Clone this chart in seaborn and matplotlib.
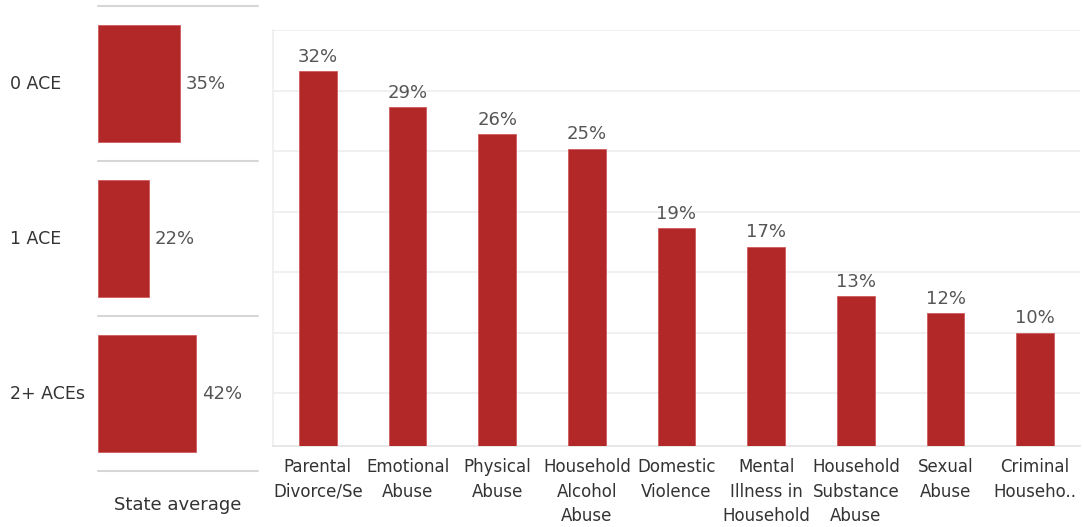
import matplotlib
matplotlib.use("Agg")
import matplotlib.pyplot as plt
import matplotlib.transforms as mtransforms
import seaborn as sns
import pandas as pd
import numpy as np

# ---- data ----
ace_groups = ["0 ACE", "1 ACE", "2+ ACEs"]
ace_share = [35, 22, 42]

ace_types = ["Parental\nDivorce/Se", "Emotional\nAbuse", "Physical\nAbuse",
             "Household\nAlcohol\nAbuse", "Domestic\nViolence",
             "Mental\nIllness in\nHousehold", "Household\nSubstance\nAbuse",
             "Sexual\nAbuse", "Criminal\nHouseho.."]
ace_type_share = [31.6, 28.6, 26.4, 25.2, 18.6, 17.1, 13.0, 11.6, 10.0]

left_caption = "State average"

# ---- style ----
sns.set_theme(style="white")
plt.rcParams['font.family'] = ['DejaVu Sans']
BAR = "#b22727"
EDGE = "#cf5a5a"
VAL_COLOR = "#555555"
LAB_COLOR = "#333333"
FS_CAT = 12
FS = 13

W, H = 1083, 527
fig = plt.figure(figsize=(W / 100, H / 100), dpi=100)

def px_axes(x0, y0, x1, y1):
    return fig.add_axes([x0 / W, 1 - y1 / H, (x1 - x0) / W, (y1 - y0) / H])

# ---- left panel ----
axl = px_axes(98, 6, 258, 471)
dfl = pd.DataFrame({"group": ace_groups, "share": ace_share})
sns.barplot(data=dfl, y="group", x="share", orient="h", color=BAR,
            edgecolor=EDGE, linewidth=0.6, width=0.75, ax=axl, saturation=1)
axl.set_xlim(0, 68.4)
axl.set_ylim(2.5, -0.5)
for yv in [-0.5, 0.5, 1.5, 2.5]:
    axl.axhline(yv, color="#d6d6d6", lw=1.5, clip_on=False)
for s in axl.spines.values():
    s.set_visible(False)
axl.set_xticks([])
axl.set_yticks([])
axl.set_xlabel("")
axl.set_ylabel("")
trans = mtransforms.blended_transform_factory(fig.transFigure, axl.transData)
for i, (g, v) in enumerate(zip(ace_groups, ace_share)):
    axl.text(10 / W, i, g, transform=trans, ha="left", va="center",
             fontsize=FS_CAT + 0.5, color=LAB_COLOR)
    axl.annotate(f"{v:.0f}%", (v, i), xytext=(4, 0), textcoords="offset points",
                 ha="left", va="center", fontsize=FS, color=VAL_COLOR)
fig.text(178 / W, 1 - 505 / H, left_caption, ha="center", va="center",
         fontsize=FS, color=LAB_COLOR)

# ---- right panel ----
axr = px_axes(273, 30, 1080, 446)
dfr = pd.DataFrame({"type": ace_types, "share": ace_type_share})
sns.barplot(data=dfr, x="type", y="share", color=BAR, edgecolor=EDGE,
            linewidth=0.6, width=0.42, ax=axr, saturation=1, zorder=3)
axr.set_ylim(0.62, 35)
axr.set_xlim(-0.5, len(ace_types) - 0.5)
axr.set_yticks(np.arange(5, 36, 5))
axr.yaxis.grid(True, color="#ededed", lw=1.2)
axr.set_axisbelow(True)
axr.tick_params(axis="y", left=False, labelleft=False)
for side in ["top", "right"]:
    axr.spines[side].set_visible(False)
axr.spines["left"].set_color("#ededed")
axr.spines["left"].set_linewidth(1.2)
axr.spines["bottom"].set_color("#e3e3e3")
axr.spines["bottom"].set_linewidth(1.2)
axr.set_xlabel("")
axr.set_ylabel("")
axr.set_xticks(range(len(ace_types)))
axr.set_xticklabels(ace_types, fontsize=FS_CAT, color=LAB_COLOR, linespacing=1.45)
axr.tick_params(axis="x", which="major", length=0, pad=9)
axr.set_xticks(np.arange(-0.5, len(ace_types), 1.0), minor=True)
axr.tick_params(axis="x", which="minor", length=12, width=1.2, color="#e3e3e3",
                direction="out")
for i, v in enumerate(ace_type_share):
    axr.annotate(f"{v:.0f}%", (i, v), xytext=(0, 4), textcoords="offset points",
                 ha="center", va="bottom", fontsize=FS, color=VAL_COLOR)

fig.savefig("out.png", dpi=100)
